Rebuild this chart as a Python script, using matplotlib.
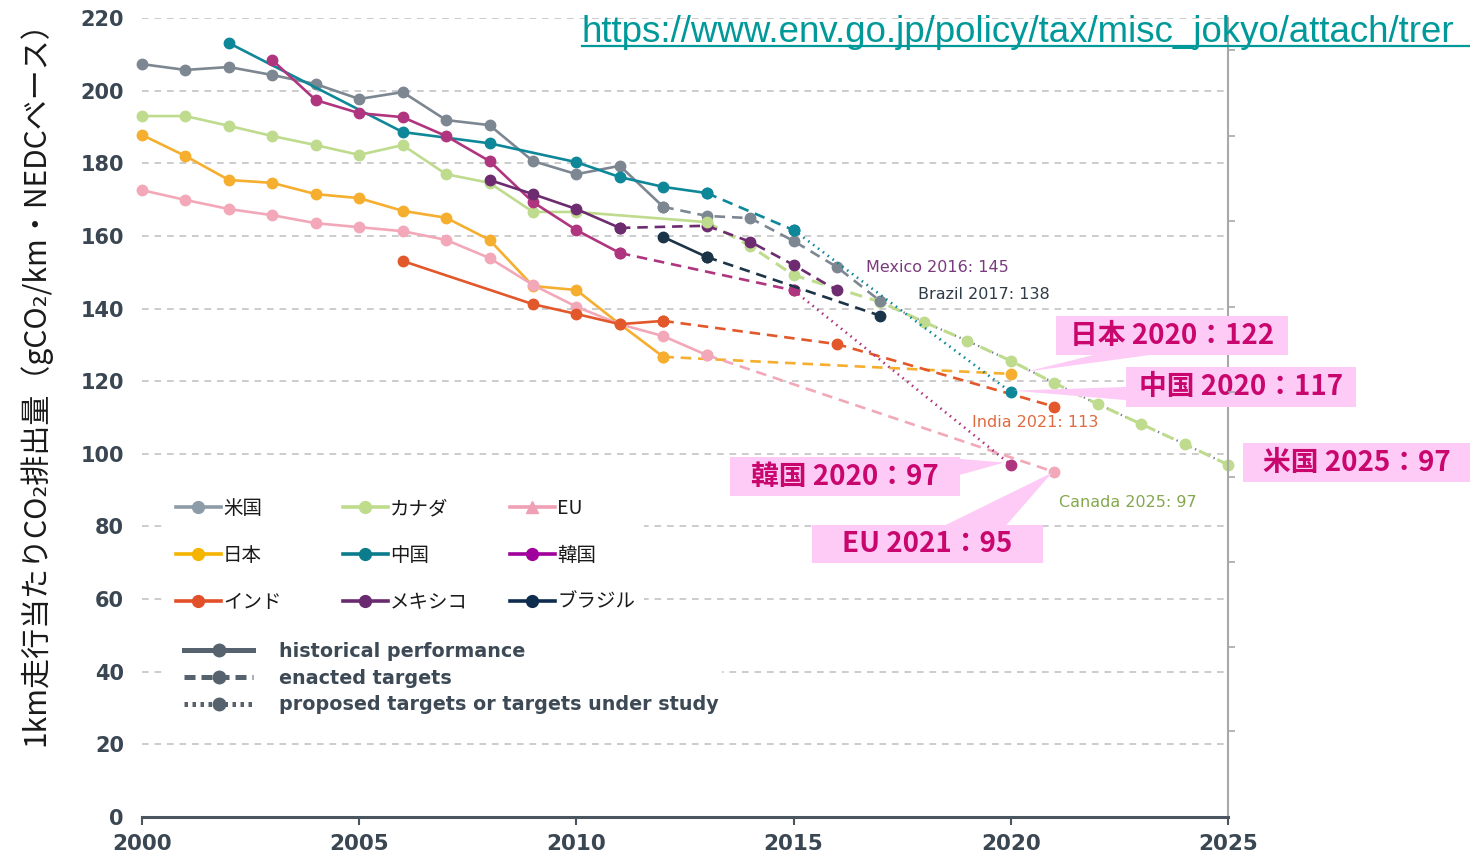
import numpy as np
import matplotlib.pyplot as plt
from matplotlib.lines import Line2D
from matplotlib.patches import Rectangle, Polygon

plt.rcParams['font.family'] = ['Noto Sans CJK JP', 'DejaVu Sans']

# values (gCO2/km, NEDC basis)
us_hist_years = [2000, 2001, 2002, 2003, 2004, 2005, 2006, 2007, 2008, 2009, 2010, 2011, 2012]
us_hist = [207.3, 205.7, 206.5, 204.3, 201.8, 197.7, 199.6, 191.9, 190.5, 180.6, 177.0, 179.3, 168.0]
us_enacted_years = [2012, 2013, 2014, 2015, 2016, 2017]
us_enacted = [168.0, 165.5, 164.9, 158.6, 151.4, 142.0]
us_later_years = [2017, 2018, 2019, 2020, 2021, 2022, 2023, 2024, 2025]
us_later = [142.0, 136.3, 131.1, 125.6, 119.5, 113.7, 108.2, 102.7, 97.0]

canada_hist_years = [2000, 2001, 2002, 2003, 2004, 2005, 2006, 2007, 2008, 2009, 2010, 2013]
canada_hist = [193.0, 193.0, 190.3, 187.5, 185.0, 182.3, 185.0, 177.0, 174.6, 166.6, 166.6, 163.8]
canada_target_years = [2013, 2014, 2015, 2017, 2018, 2019, 2020, 2021, 2022, 2023, 2024, 2025]
canada_target = [163.8, 157.2, 149.2, 141.8, 136.3, 131.1, 125.6, 119.5, 113.7, 108.2, 102.7, 97.0]

japan_hist_years = [2000, 2001, 2002, 2003, 2004, 2005, 2006, 2007, 2008, 2009, 2010, 2011, 2012]
japan_hist = [187.8, 182.0, 175.4, 174.6, 171.5, 170.4, 166.9, 165.0, 158.9, 146.2, 145.1, 135.7, 126.7]
japan_target_years = [2012, 2020]
japan_target = [126.7, 122.0]

eu_hist_years = [2000, 2001, 2002, 2003, 2004, 2005, 2006, 2007, 2008, 2009, 2010, 2011, 2012, 2013]
eu_hist = [172.6, 169.9, 167.4, 165.7, 163.5, 162.4, 161.3, 158.9, 153.9, 146.5, 140.5, 135.7, 132.4, 127.2]
eu_target_years = [2013, 2021]
eu_target = [127.2, 95.0]

india_hist_years = [2006, 2009, 2010, 2011, 2012]
india_hist = [153.1, 141.2, 138.5, 135.7, 136.6]
india_target_years = [2012, 2016, 2021]
india_target = [136.6, 130.2, 113.0]

china_hist_years = [2002, 2006, 2008, 2010, 2011, 2012, 2013]
china_hist = [213.1, 188.6, 185.5, 180.3, 176.2, 173.5, 171.8]
china_enacted_years = [2013, 2015]
china_enacted = [171.8, 161.6]
china_proposed_years = [2015, 2020]
china_proposed = [161.6, 117.0]

korea_hist_years = [2003, 2004, 2005, 2006, 2007, 2008, 2009, 2010, 2011]
korea_hist = [208.4, 197.4, 193.8, 192.7, 187.5, 180.6, 169.3, 161.6, 155.3]
korea_enacted_years = [2011, 2015]
korea_enacted = [155.3, 145.0]
korea_proposed_years = [2015, 2020]
korea_proposed = [145.0, 97.0]

mexico_hist_years = [2008, 2009, 2010, 2011]
mexico_hist = [175.4, 171.5, 167.4, 162.2]
mexico_target_years = [2011, 2013, 2014, 2015, 2016]
mexico_target = [162.2, 162.8, 158.4, 152.0, 145.0]

brazil_hist_years = [2012, 2013]
brazil_hist = [159.7, 154.2]
brazil_target_years = [2013, 2017]
brazil_target = [154.2, 138.0]

legend_names = ['米国', '日本', 'インド', 'カナダ', '中国', 'メキシコ', 'EU', '韓国', 'ブラジル']
legend_colors = ['#8C9CA8', '#F5B400', '#E2502A', '#BEDC8C', '#0B7C8C', '#6A2A70',
                 '#F0A0B4', '#A0009C', '#0E2C4E']
style_names = ['historical performance', 'enacted targets', 'proposed targets or targets under study']

note_texts = ['Mexico 2016: 145', 'Brazil 2017: 138', 'India 2021: 113', 'Canada 2025: 97']
callout_texts = ['日本 2020：122', '中国 2020：117', '米国 2025：97', '韓国 2020：97', 'EU 2021：95']

C_US = '#7D8792'
C_CA = '#BEDB8E'
C_JP = '#F5AE2E'
C_EU = '#F2A8B8'
C_IN = '#E2582B'
C_CN = '#0E8799'
C_KR = '#B0357F'
C_MX = '#6E2C70'
C_BR = '#1C3448'

fig = plt.figure(figsize=(14.7, 8.56), dpi=100)
ax = fig.add_axes([142 / 1470, 1 - 817 / 856, (1228 - 142) / 1470, (817 - 18) / 856])

LW = 1.9
MS = 7.5
DASH = (4, 2.6)
DOT = (0.6, 1.7)


def seg(xs, ys, c, style='-', lw=LW, ms=MS, z=3, marker='o'):
    kw = dict(color=c, lw=lw, marker=marker, ms=ms, mec=c, mfc=c, zorder=z, clip_on=False)
    if style == '--':
        ax.plot(xs, ys, dashes=DASH, **kw)
    elif style == ':':
        ax.plot(xs, ys, dashes=DOT, **kw)
    else:
        ax.plot(xs, ys, **kw)


# background white patches behind the legends
ax.add_patch(Rectangle((2000.55, 54.0), 11.0, 37.5, fc='white', ec='none', zorder=1.5))
ax.add_patch(Rectangle((2000.55, 28.0), 12.8, 23.6, fc='white', ec='none', zorder=1.5))

# target lines first
seg(us_later_years, us_later, '#6E7884', ':', lw=1.6, ms=0, z=2)
seg(canada_target_years, canada_target, C_CA, '--', lw=2.2, z=2.5)
seg(us_enacted_years, us_enacted, C_US, '--', z=3)
seg(japan_target_years, japan_target, C_JP, '--')
seg(eu_target_years, eu_target, C_EU, '--')
seg(india_target_years, india_target, C_IN, '--')
seg(china_enacted_years, china_enacted, C_CN, '--')
seg(china_proposed_years, china_proposed, C_CN, ':')
seg(korea_enacted_years, korea_enacted, C_KR, '--')
seg(korea_proposed_years, korea_proposed, C_KR, ':')
seg(mexico_target_years, mexico_target, C_MX, '--')
seg(brazil_target_years, brazil_target, C_BR, '--')

# historical performance
seg(canada_hist_years, canada_hist, C_CA, z=4)
seg(us_hist_years, us_hist, C_US, z=4)
seg(japan_hist_years, japan_hist, C_JP, z=4)
seg(eu_hist_years, eu_hist, C_EU, z=4)
seg(india_hist_years, india_hist, C_IN, z=4)
seg(china_hist_years, china_hist, C_CN, z=4)
seg(korea_hist_years, korea_hist, C_KR, z=4)
seg(mexico_hist_years, mexico_hist, C_MX, z=4)
seg(brazil_hist_years, brazil_hist, C_BR, z=4)

# axes styling
ax.set_xlim(2000, 2025)
ax.set_ylim(0, 220)
ax.set_xticks(range(2000, 2026, 5))
ax.set_yticks(range(0, 221, 20))
for y in range(20, 221, 20):
    ax.axhline(y, color='#C4C4C4', lw=1.2, dashes=(4, 3.5), zorder=1)
for s in ['top', 'left']:
    ax.spines[s].set_visible(False)
ax.spines['bottom'].set_color('#4A5560')
ax.spines['bottom'].set_linewidth(2.2)
ax.spines['right'].set_color('#A8A8A8')
ax.spines['right'].set_linewidth(1.5)
ax.tick_params(axis='y', length=0, pad=13, labelsize=15, labelcolor='#3A4651')
ax.tick_params(axis='x', length=6, width=1.5, color='#4A5560', pad=6, labelsize=15.5,
               labelcolor='#3A4651')
for lab in ax.get_xticklabels() + ax.get_yticklabels():
    lab.set_fontweight('bold')
    lab.set_family('DejaVu Sans')

right_ticks = [23.7, 46.8, 70.2, 93.6, 117.0, 140.4, 164.1, 187.5, 211.2]
ax2 = ax.twinx()
ax2.set_ylim(0, 220)
ax2.set_yticks(right_ticks)
ax2.set_yticklabels([])
ax2.tick_params(axis='y', length=5, width=1.2, color='#A8A8A8')
for s in ['top', 'left', 'bottom', 'right']:
    ax2.spines[s].set_visible(False)

# notes
note_pos = [(2016.67, 151.4), (2017.86, 144.0), (2019.1, 108.5), (2021.1, 86.5)]
note_colors = ['#7A3B7E', '#2E3B48', '#E06A40', '#85A84E']
for t, (x, y), c in zip(note_texts, note_pos, note_colors):
    ax.text(x, y, t, color=c, fontsize=11.5, family='DejaVu Sans', va='center', ha='left', zorder=6)

# pink callouts
PINK = '#FDCBF6'
MAG = '#C8066E'
boxes = [(2021.05, 2026.38, 127.2, 137.9), (2022.65, 2027.95, 112.9, 123.9),
         (2025.35, 2030.6, 92.2, 103.0), (2013.54, 2018.83, 88.4, 99.1),
         (2015.42, 2020.74, 69.9, 80.4)]
tips = [(japan_target_years[-1] + 0.35, japan_target[-1] + 0.6),
        (china_proposed_years[-1] + 0.05, china_proposed[-1] + 0.4),
        None,
        (korea_proposed_years[-1] - 0.15, korea_proposed[-1] + 0.6),
        (eu_target_years[-1] - 0.05, eu_target[-1] - 0.2)]
bases = [[(2021.9, 127.2), (2023.2, 127.2)],
         [(2022.65, 118.4), (2022.65, 114.8)],
         None,
         [(2018.83, 98.6), (2018.83, 94.2)],
         [(2018.5, 80.4), (2019.9, 80.4)]]
for t, (x0, x1, y0, y1), tip, base in zip(callout_texts, boxes, tips, bases):
    ax.add_patch(Rectangle((x0, y0), x1 - x0, y1 - y0, fc=PINK, ec='none', zorder=7, clip_on=False))
    if tip is not None:
        ax.add_patch(Polygon([base[0], tip, base[1]], closed=True, fc=PINK, ec='none',
                             zorder=7, clip_on=False))
    ax.text((x0 + x1) / 2, (y0 + y1) / 2, t, color=MAG, fontsize=20, fontweight='bold',
            ha='center', va='center', zorder=8, clip_on=False)

# country legends, one column each
handles = []
for i, (n, c) in enumerate(zip(legend_names, legend_colors)):
    handles.append(Line2D([], [], color=c, lw=2.6, marker='^' if n == 'EU' else 'o', ms=8.5))
col_x = [176, 343, 510]
for k in range(3):
    leg = fig.legend(handles[3 * k:3 * k + 3], legend_names[3 * k:3 * k + 3],
                     loc='upper left', bbox_to_anchor=(col_x[k] / 1470, 1 - 498 / 856),
                     frameon=False, fontsize=14, handlelength=2.3, handletextpad=0.12,
                     labelspacing=1.33, borderpad=0, borderaxespad=0)
    for txt in leg.get_texts():
        txt.set_color('#1A1A1A')

# line-style legend
style_handles = [Line2D([], [], color='#56636E', lw=3.6, marker='o', ms=9, ls='-'),
                 Line2D([], [], color='#56636E', lw=3.6, marker='o', ms=9, dashes=(2.2, 1.2)),
                 Line2D([], [], color='#56636E', lw=3.6, marker='o', ms=9, dashes=(0.7, 0.9))]
leg2 = fig.legend(style_handles, style_names, loc='upper left',
                  bbox_to_anchor=(184 / 1470, 1 - 642 / 856), frameon=False,
                  prop=dict(family='DejaVu Sans', weight='bold', size=13.8),
                  handlelength=3.6, handletextpad=1.35, labelspacing=0.4,
                  borderpad=0, borderaxespad=0)
for txt in leg2.get_texts():
    txt.set_color('#3D4A55')

# y label
fig.text(35 / 1470, 1 - 376 / 856, '1km走行当たりCO₂排出量（gCO₂/km・NEDCベース）',
         rotation=90, ha='center', va='center', fontsize=21.6, color='#1A1A1A')

# source url (the source shows it running to the edge of the picture)
fig.text(582 / 1470, 1 - 42 / 856, 'https://www.env.go.jp/policy/tax/misc_jokyo/attach/trer',
         family='Liberation Sans', fontsize=26.4, color='#00999A', ha='left', va='baseline')
fig.add_artist(Line2D([582 / 1470, 1.0], [1 - 46 / 856, 1 - 46 / 856],
                      color='#00999A', lw=1.6, transform=fig.transFigure))

fig.savefig('out.png', dpi=100)
